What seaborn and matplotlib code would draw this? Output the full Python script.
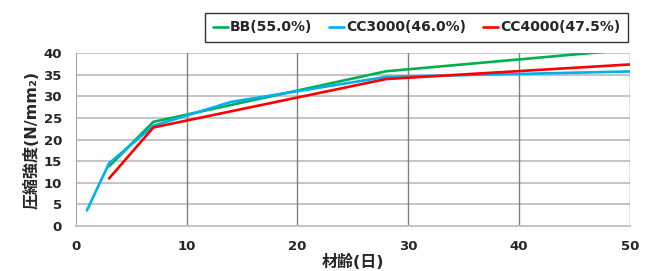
import pandas as pd
import seaborn as sns
import matplotlib.pyplot as plt

# material age (days) and compressive strength (N/mm2) per mix
bb_days = [3, 7, 14, 28, 56]
bb_strength = [13.8, 24.1, 28.0, 35.8, 42.2]

cc3000_days = [1, 3, 7, 14, 28, 56]
cc3000_strength = [3.6, 14.5, 23.2, 28.7, 34.5, 36.1]

cc4000_days = [3, 7, 28, 56]
cc4000_strength = [11.0, 22.8, 34.0, 38.3]

series_names = ["BB(55.0%)", "CC3000(46.0%)", "CC4000(47.5%)"]
palette = ["#00B050", "#00B0F0", "#FF0000"]

frames = []
for name, d, s in zip(series_names,
                      [bb_days, cc3000_days, cc4000_days],
                      [bb_strength, cc3000_strength, cc4000_strength]):
    frames.append(pd.DataFrame({"days": d, "strength": s, "mix": name}))
df = pd.concat(frames, ignore_index=True)

sns.set_style("white")
plt.rcParams["font.family"] = ["DejaVu Sans", "Noto Sans CJK JP"]
plt.rcParams["font.weight"] = "bold"

fig = plt.figure(figsize=(6.48, 2.71), dpi=100)
ax = fig.add_axes([0.117, 0.166, 0.855, 0.638])

sns.lineplot(data=df, x="days", y="strength", hue="mix",
             hue_order=series_names, palette=palette,
             linewidth=1.9, ax=ax, estimator=None, sort=True)

ax.set_xlim(0, 50)
ax.set_ylim(0, 40)
ax.set_xticks(range(0, 51, 10))
ax.set_yticks(range(0, 41, 5))

for y in range(5, 41, 5):
    ax.axhline(y, color="#BFBFBF", linewidth=1.3, zorder=0)
for x in range(10, 51, 10):
    ax.axvline(x, color="#808080", linewidth=1.0, zorder=0)

for side in ["top", "right"]:
    ax.spines[side].set_visible(False)
ax.spines["left"].set_color("#A6A6A6")
ax.spines["bottom"].set_color("#BFBFBF")
ax.spines["bottom"].set_linewidth(1.3)

ax.tick_params(axis="both", length=0, labelsize=9.5, pad=10)
for lab in ax.get_xticklabels() + ax.get_yticklabels():
    lab.set_fontweight("bold")

ax.set_xlabel("材齢(日)", fontsize=11.5, fontweight="bold", labelpad=1)
ax.set_ylabel("圧縮強度(N/mm\u2082)", fontsize=11.5, fontweight="bold", labelpad=3)

leg = ax.legend(loc="lower center", bbox_to_anchor=(0.615, 1.064), ncol=3,
                frameon=True, fancybox=False, edgecolor="black",
                handlelength=1.1, handletextpad=0.15, columnspacing=1.2,
                prop={"weight": "bold", "size": 10}, borderpad=0.55,
                borderaxespad=0)
leg.get_frame().set_linewidth(1.0)

fig.savefig("out.png", dpi=100)
